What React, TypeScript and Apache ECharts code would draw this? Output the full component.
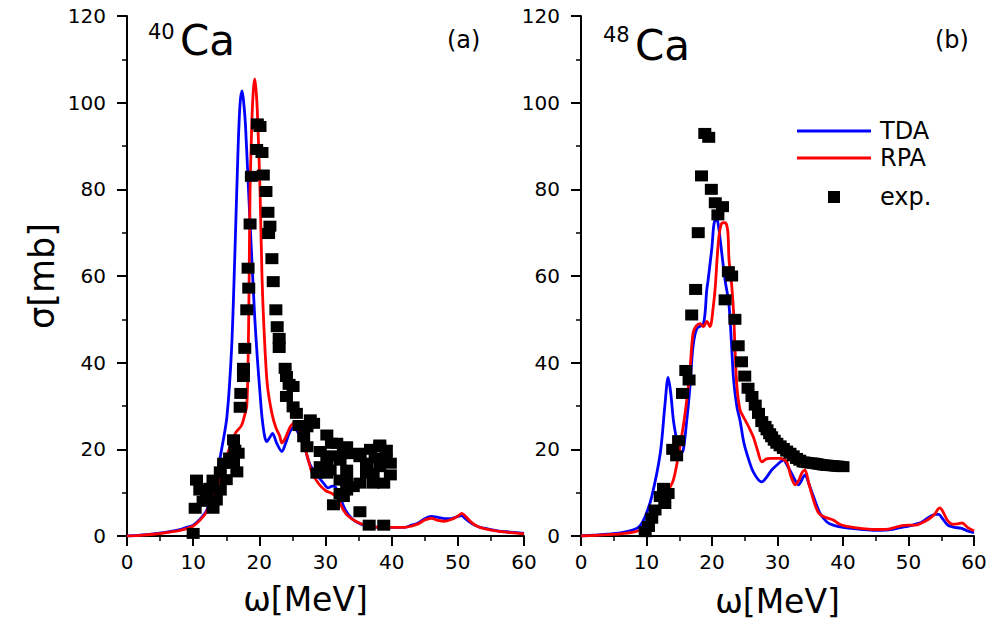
import React, { useEffect, useRef } from "react";
import * as echarts from "echarts";

// ---- Data ----
// Panel (a): 40Ca
const tdaA: [number, number][] = [
  [0, 0], [2, 0.2], [4, 0.5], [6, 0.9], [8, 1.5], [9, 2], [10, 2.5], [11, 3.8], [12, 5.8], [13, 10],
  [13.7, 15], [14.3, 20], [15.1, 27.5], [15.8, 43], [16.3, 65], [16.8, 90], [17.1, 100], [17.4, 102.7],
  [17.7, 99], [17.9, 95], [18.3, 82], [18.8, 66], [19.3, 50.6], [19.7, 41], [20.1, 33], [20.4, 27.5],
  [20.8, 23], [21.1, 21.8], [21.6, 22.8], [22, 23.7], [22.6, 21.5], [23.4, 19.5], [24, 21.5], [24.6, 24],
  [25.2, 25], [26, 23.5], [26.7, 21.4], [27.4, 17.5], [28, 15.5], [29, 13.5], [29.7, 12.2], [30.4, 11.1],
  [31, 11.5], [31.5, 11.3], [32.2, 9], [33, 6], [34, 4], [35, 3], [36, 2.4], [37, 2.1], [40, 2], [42, 2],
  [43, 2.5], [44, 3], [45, 4], [46, 4.5], [47, 4.3], [48, 4], [49, 4], [50, 4.5], [50.6, 4.7], [51, 4.2],
  [52, 3], [53, 2.2], [54, 1.8], [56, 1.2], [58, 0.9], [60, 0.6],
];
const rpaA: [number, number][] = [
  [0, 0], [2, 0.15], [4, 0.4], [6, 0.8], [8, 1.3], [9, 1.7], [10, 2.3], [11, 3.6], [12, 5.5], [13, 9],
  [14, 13], [15, 18], [16, 22.5], [16.5, 24], [17.3, 25.5], [17.8, 28], [18.1, 30], [18.3, 40], [18.45, 58],
  [18.6, 80], [18.9, 97], [19.1, 103], [19.3, 105.5], [19.5, 103], [19.7, 98], [20.1, 80], [20.4, 60],
  [20.7, 48], [21.2, 35], [21.9, 28.3], [22.5, 25], [23.1, 23], [23.4, 21.5], [23.9, 22.5], [24.6, 25],
  [25.2, 26], [25.8, 25], [26.7, 21.4], [27.4, 17.5], [28, 14.5], [29, 12], [30, 10.5], [31, 9.8],
  [31.7, 9], [32.7, 6], [33.5, 4.5], [34.7, 3.3], [36.2, 2.4], [38, 2], [40, 2], [42, 2], [43, 2.3],
  [44, 2.8], [45, 3.7], [46, 4.1], [47, 3.6], [48, 3.4], [49, 3.8], [50, 4.6], [50.6, 5.2], [51.2, 4.5],
  [52, 3.2], [53, 2.2], [54, 1.7], [56, 1.1], [58, 0.8], [60, 0.5],
];
const expA: [number, number][] = [
  [10.0, 0.6], [10.3, 6.4], [10.5, 12.9], [11.0, 10.6], [11.5, 8], [12.0, 9.1], [12.5, 11], [13.0, 6.4],
  [13.0, 12.9], [13.5, 8.3], [14.1, 10.6], [14.1, 14.8], [14.6, 16.8], [15, 13], [15.5, 18], [16.1, 16.8],
  [16.6, 14.8], [16.1, 22.2], [16.3, 19.8], [16.8, 19.1], [17.1, 29.7], [17.2, 32.9], [17.6, 36.8],
  [17.6, 38.7], [17.8, 43.3], [18.1, 52.2], [18.4, 57.2], [18.3, 61.8], [18.6, 72], [18.8, 83], [19.6, 89.2],
  [19.7, 95.1], [20.1, 94.5], [20.4, 88.5], [20.6, 83.3], [21.0, 79.5], [21.3, 74.7], [21.4, 69.8],
  [21.6, 71.5], [21.9, 64], [22.1, 58.7], [22.5, 52.2], [22.7, 48.3], [23.0, 45.6], [23.0, 43.5],
  [23.9, 38.7], [24.1, 36.8], [24.5, 35], [25.1, 34.5], [24.1, 32.2], [25.1, 29.8], [25.6, 28.3],
  [26, 25.5], [27.7, 26.8], [27.2, 25.2], [28.2, 26], [26.7, 22.9], [30.2, 23.3], [30.9, 21.4], [27.2, 20.6],
  [29.2, 19.5], [31, 18.5], [33.2, 20.6], [34, 19], [35.2, 19.1], [36.8, 20], [37.5, 18], [38.2, 21],
  [39.2, 19.8], [39.8, 16.8], [39.8, 14.1], [38.2, 16], [36.2, 16.8], [36.2, 14.5], [37.2, 12.2],
  [35.2, 12.2], [34.2, 11.4], [33.2, 10.6], [32.7, 9.1], [31.2, 7.2], [35.2, 5.6], [36.6, 2.5], [38.8, 2.5],
  [29.2, 16], [30.2, 14.5], [28.7, 14.5], [32.2, 17.5], [32.2, 12.9], [32.7, 19.8], [31.7, 21.4],
  [30.2, 17.5], [35.2, 18.3], [38.2, 20.6], [39.2, 17.5], [37.2, 14.5], [33.2, 12.9], [32.2, 9.8],
  [38.8, 12.2], [30.7, 15.2], [33.2, 15.2],
];

// Panel (b): 48Ca
const tdaB: [number, number][] = [
  [0, 0], [2, 0.2], [4, 0.4], [6, 0.7], [8, 1.4], [9, 2.3], [9.8, 4.5], [10.8, 9.1], [12.1, 19.1],
  [12.8, 30], [13.3, 36.6], [13.7, 33], [14.1, 26.8], [14.6, 22.2], [15.1, 18.7], [15.6, 19.8],
  [16.1, 26], [16.6, 33.7], [17.1, 43.7], [17.7, 47.9], [18.7, 49], [19.2, 56.8], [19.4, 59], [20, 66.8],
  [20.3, 72], [20.7, 73.5], [21, 71.4], [21.5, 65.2], [22, 59], [22.5, 54.5], [22.7, 51.4], [23, 43.7],
  [23.3, 36], [23.8, 29.8], [24.3, 26.5], [24.8, 22], [25.3, 19.1], [26.3, 14.8], [27.6, 12.5],
  [28.3, 13.5], [29.1, 15.2], [30, 16.5], [30.9, 17.5], [31.6, 16], [32.4, 13.7], [33.2, 11.8],
  [34.2, 14.1], [34.8, 12], [35.5, 9.1], [36.5, 5.2], [37.5, 3.3], [38.5, 2.5], [40, 2], [43, 1.5],
  [45, 1.3], [47, 1.4], [49, 2], [50, 2.3], [51, 2.7], [52, 3.2], [53, 4.2], [54, 5], [54.6, 5],
  [55.2, 4], [56, 2.5], [57, 2], [58, 1.8], [59, 1.2], [60, 0.8],
];
const rpaB: [number, number][] = [
  [0, 0], [4, 0.3], [6, 0.5], [8, 0.9], [9, 1.4], [10, 2.5], [11, 4], [11.6, 6], [12.5, 8.5],
  [13.3, 10.5], [14.1, 12.9], [14.8, 18], [15.6, 25.2], [16.2, 32], [16.6, 37.5], [17.1, 46.8],
  [17.6, 48.5], [18.2, 49], [18.7, 48.3], [19.2, 49.5], [19.7, 48.3], [20.2, 53], [20.5, 57.5],
  [21, 68.3], [21.5, 72.2], [22, 72.3], [22.4, 70.5], [22.6, 63.7], [23, 58], [23.3, 51.4], [23.5, 43.7],
  [23.8, 34.5], [24.3, 29], [24.8, 27.5], [25.5, 25.5], [26.3, 22.9], [27, 19.5], [27.6, 17.1],
  [28.3, 17.8], [28.9, 17.9], [30.4, 17.9], [31.4, 17.1], [32, 14], [32.7, 11.8], [33.3, 13],
  [33.7, 14.5], [34.2, 15.2], [34.8, 12], [35.5, 8.3], [36.2, 5.5], [37, 4.5], [38.5, 3.7], [39.5, 2.7],
  [40.6, 2.2], [43, 1.7], [45.6, 1.5], [47, 1.6], [48, 2], [49, 2.4], [50, 2.5], [51, 2.5], [52, 3],
  [53, 3.8], [54, 5], [54.5, 6.2], [54.8, 6.5], [55.3, 5.5], [56, 3.5], [56.8, 2.7], [57.5, 2.8],
  [58.2, 3], [59, 2], [60, 1.2],
];
const expB: [number, number][] = [
  [9.8, 1], [10.3, 2.2], [10.8, 4.1], [11.3, 6], [12.1, 9.1], [12.8, 7.5], [12.6, 11], [13.3, 9.8],
  [14, 20], [14.6, 18.5], [14.9, 22], [15.5, 32.9], [16, 38.2], [16.5, 36], [16.9, 51], [17.5, 56.9],
  [17.9, 70], [18.4, 83.1], [18.9, 92.9], [19.5, 92], [19.9, 80], [20.5, 76.9], [20.9, 74.1], [21.6, 76],
  [22, 54.5], [22.5, 61], [23, 60], [23.5, 50], [24, 43.9], [24.5, 40.2], [25, 36.9], [25.5, 34.1],
  [26.1, 32.2], [26.6, 30.2], [27.1, 28.3], [27.6, 26.4], [28.1, 25.3], [28.4, 24.5], [28.8, 23.6],
  [29.1, 22.9], [29.5, 22.1], [29.9, 21.4], [30.4, 20.8], [30.9, 20.2], [31.4, 19.6], [31.9, 19.1],
  [32.4, 18.5], [32.9, 17.9], [33.4, 17.5], [33.9, 17.1], [34.3, 17], [34.7, 16.9], [35.1, 16.85],
  [35.5, 16.8], [35.9, 16.7], [36.2, 16.6], [36.6, 16.5], [37, 16.4], [37.4, 16.35], [37.7, 16.3],
  [38.1, 16.25], [38.5, 16.2], [38.9, 16.15], [39.2, 16.1], [39.6, 16.05], [40, 16],
];

const xTicks = { min: 0, max: 60, interval: 10 };
const yTicks = { min: 0, max: 120, interval: 20 };

const FONT = "'DejaVu Sans', 'Liberation Sans', Arial, sans-serif";

export default function App() {
  const ref = useRef<HTMLDivElement>(null);
  useEffect(() => {
    document.body.style.margin = "0";
    if (!ref.current) return;
    const chart = echarts.init(ref.current, null, { renderer: "svg" });
    const axisLine = { show: true, onZero: false, lineStyle: { color: "#000", width: 2 } };
    const axisTick = { show: true, inside: false, length: 10, lineStyle: { color: "#000", width: 2 } };
    const minorTick = { show: true, splitNumber: 2, length: 5, lineStyle: { color: "#000", width: 1.5 } };
    const mkX = (gi: number, pad: number[], gap: number) => ({
      type: "value", gridIndex: gi, ...xTicks,
      axisLine, axisTick, minorTick,
      splitLine: { show: false }, minorSplitLine: { show: false },
      axisLabel: { fontSize: 20, color: "#000", margin: 16, fontFamily: FONT },
      name: "ω[MeV]", nameLocation: "middle", nameGap: gap,
      nameTextStyle: { fontSize: 33, color: "#000", fontFamily: FONT, padding: pad },
    });
    const mkY = (gi: number, withName: boolean) => ({
      type: "value", gridIndex: gi, ...yTicks,
      axisLine, axisTick, minorTick,
      splitLine: { show: false }, minorSplitLine: { show: false },
      axisLabel: { fontSize: 20, color: "#000", margin: 21, fontFamily: FONT },
      ...(withName
        ? { name: "σ[mb]", nameLocation: "middle", nameGap: 68, nameTextStyle: { fontSize: 35, color: "#000", fontFamily: FONT } }
        : {}),
    });
    const line = (name: string, color: string, data: [number, number][], gi: number, z: number) => ({
      type: "line", name, data, xAxisIndex: gi, yAxisIndex: gi, symbol: "none", smooth: 0.3,
      lineStyle: { color, width: 2.8 }, itemStyle: { color }, z,
    });
    const scatter = (data: [number, number][], gi: number) => ({
      type: "scatter", name: "exp.", data, xAxisIndex: gi, yAxisIndex: gi, symbol: "rect",
      symbolSize: [13, 11], itemStyle: { color: "#000", opacity: 1 }, z: 5,
    });
    const txt = (text: string, left: number, top: number, fontSize: number) => ({
      type: "text", left, top, style: { text, fontSize, fill: "#000", fontFamily: FONT },
    });
    chart.setOption({
      animation: false,
      backgroundColor: "#fff",
      grid: [
        { left: 127, top: 16, width: 397, height: 520, outerBoundsMode: "none", containLabel: false },
        { left: 581, top: 16, width: 393, height: 520, outerBoundsMode: "none", containLabel: false },
      ],
      xAxis: [mkX(0, [0, 40, 0, 0], 47), mkX(1, [0, 0, 0, 0], 49)],
      yAxis: [mkY(0, true), mkY(1, false)],
      legend: [
        {
          data: [
            { name: "TDA", icon: "rect", itemStyle: { color: "#0000ff" } },
            { name: "RPA", icon: "rect", itemStyle: { color: "#ff0000" } },
          ],
          orient: "vertical", left: 792, top: 114, itemWidth: 74, itemHeight: 3,
          itemGap: 3, selectedMode: false,
          textStyle: { fontSize: 24, color: "#000", fontFamily: FONT, padding: [0, 0, 0, 4] },
        },
        {
          data: [{ name: "exp.", icon: "rect" }], orient: "vertical", left: 823, top: 180,
          itemWidth: 12, itemHeight: 12, selectedMode: false,
          textStyle: { fontSize: 24, color: "#000", fontFamily: FONT, padding: [0, 0, 0, 35] },
        },
      ],
      graphic: [
        txt("40", 148, 21, 21),
        txt("Ca", 180, 19, 42),
        txt("(a)", 447, 28, 24),
        txt("48", 603, 24, 21),
        txt("Ca", 635, 24, 42),
        txt("(b)", 935, 28, 24),
      ],
      series: [
        line("TDA", "#0000ff", tdaA, 0, 2),
        line("RPA", "#ff0000", rpaA, 0, 3),
        scatter(expA, 0),
        line("TDA", "#0000ff", tdaB, 1, 2),
        line("RPA", "#ff0000", rpaB, 1, 3),
        scatter(expB, 1),
      ],
    });
    return () => chart.dispose();
  }, []);
  return <div ref={ref} style={{ width: 992, height: 624 }} />;
}
